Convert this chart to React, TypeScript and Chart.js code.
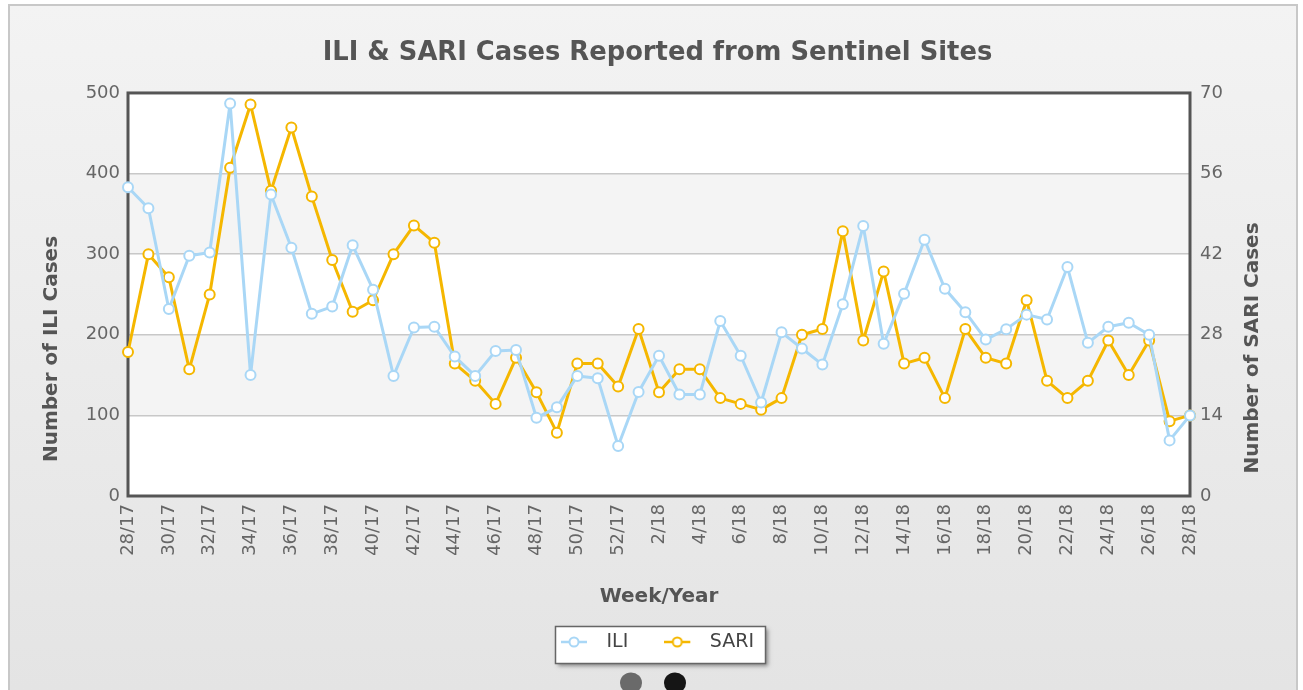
import React, { useEffect, useRef } from 'react';
import { Chart, registerables } from 'chart.js';

Chart.register(...registerables);

const weekLabels = [
  '28/17', '29/17', '30/17', '31/17', '32/17', '33/17', '34/17', '35/17', '36/17', '37/17',
  '38/17', '39/17', '40/17', '41/17', '42/17', '43/17', '44/17', '45/17', '46/17', '47/17',
  '48/17', '49/17', '50/17', '51/17', '52/17', '1/18', '2/18', '3/18', '4/18', '5/18',
  '6/18', '7/18', '8/18', '9/18', '10/18', '11/18', '12/18', '13/18', '14/18', '15/18',
  '16/18', '17/18', '18/18', '19/18', '20/18', '21/18', '22/18', '23/18', '24/18', '25/18',
  '26/18', '27/18', '28/18',
];

const iliCases = [
  383, 357, 232, 298, 302, 487, 150, 374, 308, 226,
  235, 311, 256, 149, 209, 210, 173, 149, 180, 181,
  97, 110, 149, 146, 62, 129, 174, 126, 126, 217,
  174, 116, 203, 183, 163, 238, 335, 189, 251, 318,
  257, 228, 194, 207, 225, 219, 284, 190, 210, 215,
  200, 69, 100,
];

const sariCases = [
  25, 42, 38, 22, 35, 57, 68, 53, 64, 52,
  41, 32, 34, 42, 47, 44, 23, 20, 16, 24,
  18, 11, 23, 23, 19, 29, 18, 22, 22, 17,
  16, 15, 17, 28, 29, 46, 27, 39, 23, 24,
  17, 29, 24, 23, 34, 20, 17, 20, 27, 21,
  27, 13, 14,
];

const iliTicks = [0, 100, 200, 300, 400, 500];
const sariTicks = [0, 14, 28, 42, 56, 70];

const TITLE = 'ILI & SARI Cases Reported from Sentinel Sites';
const X_TITLE = 'Week/Year';
const Y_LEFT_TITLE = 'Number of ILI Cases';
const Y_RIGHT_TITLE = 'Number of SARI Cases';

const ILI_COLOR = '#a9d7f6';
const SARI_COLOR = '#f5b700';
const FONT = '"DejaVu Sans", Verdana, sans-serif';

function makeLegendMarker(color: string): HTMLCanvasElement {
  const c = document.createElement('canvas');
  c.width = 36;
  c.height = 14;
  const g = c.getContext('2d')!;
  g.strokeStyle = color;
  g.lineWidth = 2.5;
  g.beginPath();
  g.moveTo(0, 7);
  g.lineTo(26, 7);
  g.stroke();
  g.beginPath();
  g.arc(13, 7, 4.5, 0, Math.PI * 2);
  g.fillStyle = '#ffffff';
  g.fill();
  g.lineWidth = 2;
  g.stroke();
  return c;
}

const decorPlugin = {
  id: 'decor',
  beforeDraw(chart: any) {
    const { ctx, width, height, chartArea: ca, scales } = chart;
    ctx.save();
    ctx.fillStyle = '#ffffff';
    ctx.fillRect(0, 0, width, height);
    const g = ctx.createLinearGradient(0, 5, 0, height);
    g.addColorStop(0, '#f3f3f3');
    g.addColorStop(1, '#e4e4e4');
    ctx.fillStyle = g;
    ctx.fillRect(9, 5, width - 15, height);
    ctx.strokeStyle = '#c8c8c8';
    ctx.lineWidth = 2;
    ctx.strokeRect(9, 5, width - 15, height + 10);

    // plot background with alternating bands
    ctx.fillStyle = '#ffffff';
    ctx.fillRect(ca.left, ca.top, ca.right - ca.left, ca.bottom - ca.top);
    const y = scales.y;
    ctx.fillStyle = '#f4f4f4';
    for (let i = 1; i < iliTicks.length - 1; i += 2) {
      const ya = y.getPixelForValue(iliTicks[i]);
      const yb = y.getPixelForValue(iliTicks[i + 1]);
      ctx.fillRect(ca.left, yb, ca.right - ca.left, ya - yb);
    }

    // legend frame
    const hb = chart.legend && chart.legend.legendHitBoxes;
    if (hb && hb.length) {
      const first = hb[0];
      const last = hb[hb.length - 1];
      const left = Math.round(first.left - 6);
      const right = Math.round(last.left + last.width + 11);
      const cy = first.top + first.height / 2;
      const top = Math.round(cy - 16);
      const h = 37;
      ctx.save();
      ctx.shadowColor = 'rgba(0,0,0,0.4)';
      ctx.shadowBlur = 4;
      ctx.shadowOffsetX = 3;
      ctx.shadowOffsetY = 3;
      ctx.fillStyle = '#ffffff';
      ctx.fillRect(left, top, right - left, h);
      ctx.restore();
      ctx.strokeStyle = '#666666';
      ctx.lineWidth = 1.5;
      ctx.strokeRect(left + 0.5, top + 0.5, right - left, h);
    }
    ctx.restore();
  },
  beforeDatasetsDraw(chart: any) {
    const { ctx, chartArea: ca } = chart;
    ctx.save();
    ctx.strokeStyle = '#555555';
    ctx.lineWidth = 3;
    ctx.strokeRect(ca.left, ca.top, ca.right - ca.left, ca.bottom - ca.top);
    ctx.restore();
  },
  afterDraw(chart: any) {
    const { ctx } = chart;
    ctx.save();
    ctx.fillStyle = '#555555';
    ctx.font = `bold 20px ${FONT}`;
    ctx.textAlign = 'center';
    ctx.textBaseline = 'middle';
    ctx.save();
    ctx.translate(52, 349);
    ctx.rotate(-Math.PI / 2);
    ctx.fillText(Y_LEFT_TITLE, 0, 0);
    ctx.restore();
    ctx.save();
    ctx.translate(1253, 348);
    ctx.rotate(-Math.PI / 2);
    ctx.fillText(Y_RIGHT_TITLE, 0, 0);
    ctx.restore();

    // pager dots
    ctx.fillStyle = '#6a6a6a';
    ctx.beginPath();
    ctx.ellipse(631, 683, 11, 10.5, 0, 0, Math.PI * 2);
    ctx.fill();
    ctx.fillStyle = '#151515';
    ctx.beginPath();
    ctx.ellipse(675, 683, 11, 10.5, 0, 0, Math.PI * 2);
    ctx.fill();
    ctx.restore();
  },
};

export default function App() {
  const canvasRef = useRef<HTMLCanvasElement | null>(null);

  useEffect(() => {
    const canvas = canvasRef.current;
    if (!canvas) return;
    const markers: Record<string, HTMLCanvasElement> = {
      ILI: makeLegendMarker(ILI_COLOR),
      SARI: makeLegendMarker(SARI_COLOR),
    };

    const chart = new Chart(canvas, {
      type: 'line',
      data: {
        labels: weekLabels,
        datasets: [
          {
            label: 'ILI',
            data: iliCases,
            yAxisID: 'y',
            borderColor: ILI_COLOR,
            backgroundColor: '#ffffff',
            borderWidth: 3,
            borderJoinStyle: 'round',
            pointRadius: 5,
            pointBorderWidth: 2,
            pointBackgroundColor: '#ffffff',
            pointBorderColor: ILI_COLOR,
            tension: 0,
            clip: false as any,
          },
          {
            label: 'SARI',
            data: sariCases,
            yAxisID: 'y1',
            borderColor: SARI_COLOR,
            backgroundColor: '#ffffff',
            borderWidth: 3,
            borderJoinStyle: 'round',
            pointRadius: 5,
            pointBorderWidth: 2,
            pointBackgroundColor: '#ffffff',
            pointBorderColor: SARI_COLOR,
            tension: 0,
            clip: false as any,
          },
        ],
      },
      options: {
        responsive: false,
        animation: false,
        events: [],
        layout: { padding: { left: 12, right: 0, top: 0, bottom: 28.5 } },
        plugins: {
          title: {
            display: true,
            text: TITLE,
            color: '#555555',
            font: { family: FONT, size: 25.8, weight: 'bold' },
            padding: { top: 38, bottom: 24 },
          },
          legend: {
            display: true,
            position: 'bottom',
            labels: {
              usePointStyle: true,
              pointStyleWidth: 36,
              padding: 36,
              color: '#444444',
              font: { family: FONT, size: 19 },
              generateLabels: (ch: any) => {
                const items = Chart.defaults.plugins.legend.labels.generateLabels(ch);
                return items.map((it: any) => ({ ...it, pointStyle: markers[it.text] }));
              },
            },
          },
          tooltip: { enabled: false },
        },
        scales: {
          x: {
            grid: { display: false, drawTicks: false },
            border: { display: false },
            ticks: {
              autoSkip: false,
              maxRotation: 90,
              minRotation: 90,
              padding: 8,
              color: '#666666',
              font: { family: FONT, size: 18 },
              callback: function (this: any, val: any, idx: number) {
                return idx % 2 === 0 ? this.getLabelForValue(val) : '';
              },
            },
            title: {
              display: true,
              text: X_TITLE,
              color: '#555555',
              font: { family: FONT, size: 20, weight: 'bold' },
              padding: { top: 0, bottom: -12.5 },
            },
            afterFit: (s: any) => {
              s.height = 100.5;
            },
          },
          y: {
            position: 'left',
            min: iliTicks[0],
            max: iliTicks[iliTicks.length - 1],
            afterBuildTicks: (s: any) => {
              s.ticks = iliTicks.map((v) => ({ value: v }));
            },
            grid: { color: '#c8c8c8', lineWidth: 1.5, drawTicks: false },
            border: { display: false },
            ticks: {
              padding: 8,
              color: '#666666',
              font: { family: FONT, size: 18 },
            },
            afterFit: (s: any) => {
              s.width = 116;
            },
          },
          y1: {
            position: 'right',
            min: sariTicks[0],
            max: sariTicks[sariTicks.length - 1],
            afterBuildTicks: (s: any) => {
              s.ticks = sariTicks.map((v) => ({ value: v }));
            },
            grid: { display: false, drawTicks: false },
            border: { display: false },
            ticks: {
              padding: 10,
              color: '#666666',
              font: { family: FONT, size: 18 },
            },
            afterFit: (s: any) => {
              s.width = 113;
            },
          },
        },
      } as any,
      plugins: [decorPlugin],
    });

    return () => {
      chart.destroy();
    };
  }, []);

  return (
    <div style={{ position: 'absolute', left: 0, top: 0, width: 1303, height: 690, overflow: 'hidden' }}>
      <canvas ref={canvasRef} width={1303} height={690} style={{ display: 'block' }} />
    </div>
  );
}
